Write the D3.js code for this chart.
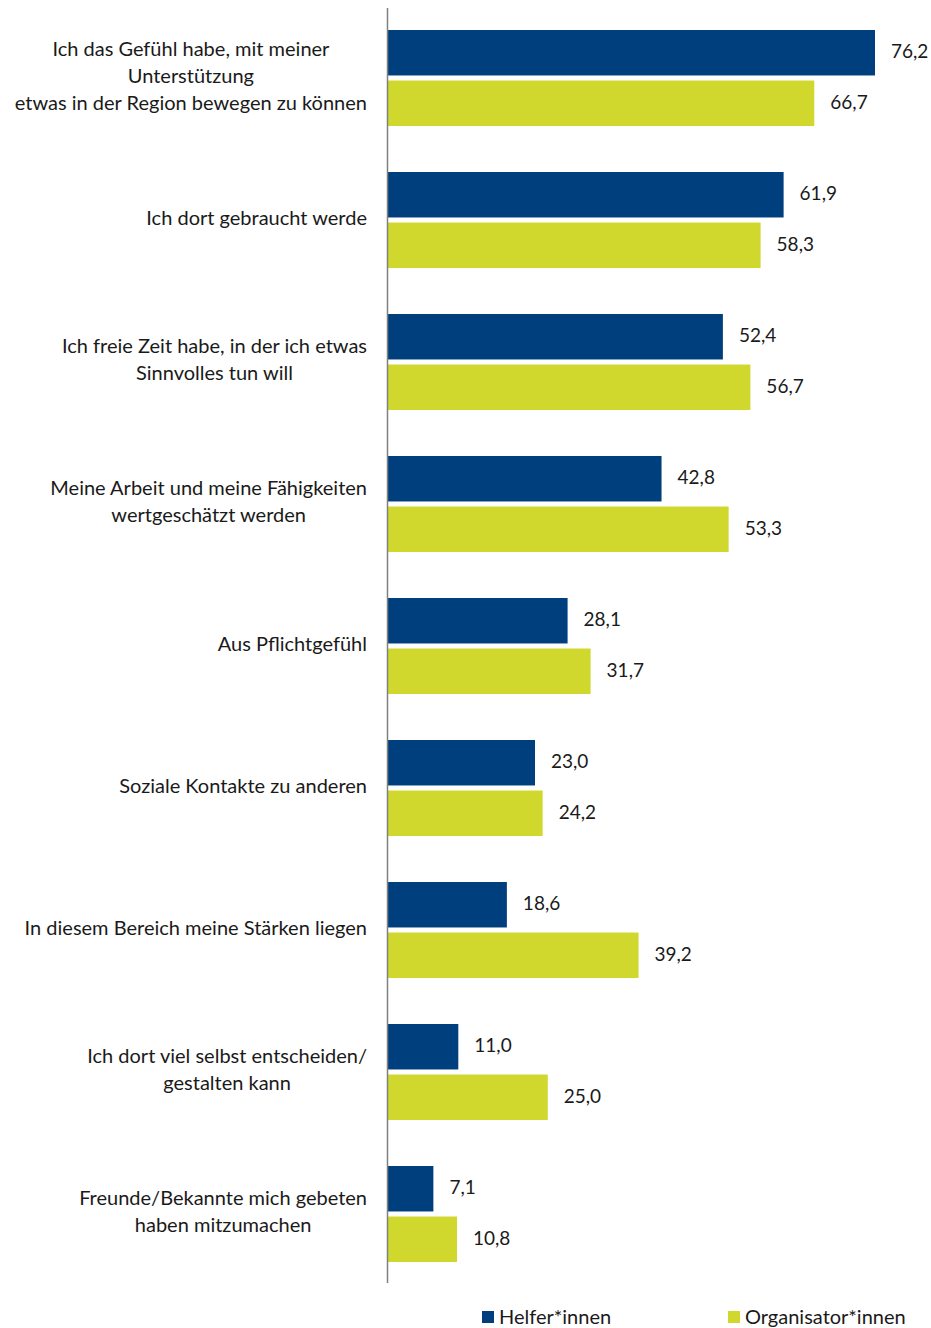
<!DOCTYPE html>
<html>
<head>
<meta charset="utf-8">
<script src="https://cdnjs.cloudflare.com/ajax/libs/d3/7.8.5/d3.min.js"></script>
<style>
  body { margin: 0; background: #fff; }
  svg text { font-family: "Source Sans Pro", Lato, sans-serif; fill: #1a1a1a; }
</style>
</head>
<body>
<div id="chart"></div>
<script>
var categories = [
    ["Ich das Gefühl habe, mit meiner", "Unterstützung", "etwas in der Region bewegen zu können"],
    ["Ich dort gebraucht werde"],
    ["Ich freie Zeit habe, in der ich etwas", "Sinnvolles tun will"],
    ["Meine Arbeit und meine Fähigkeiten", "wertgeschätzt werden"],
    ["Aus Pflichtgefühl"],
    ["Soziale Kontakte zu anderen"],
    ["In diesem Bereich meine Stärken liegen"],
    ["Ich dort viel selbst entscheiden/", "gestalten kann"],
    ["Freunde/Bekannte mich gebeten", "haben mitzumachen"]
];
var series = ["Helfer*innen", "Organisator*innen"];
var helfer = [76.2, 61.9, 52.4, 42.8, 28.1, 23.0, 18.6, 11.0, 7.1];
var organisatoren = [66.7, 58.3, 56.7, 53.3, 31.7, 24.2, 39.2, 25.0, 10.8];
var colors = ["#003f7d", "#d0d82e"];

var width = 931, height = 1328,
    axisX = 388, labelRight = 367;

var fmt = function(v) { return d3.format(".1f")(v).replace(".", ","); };

var svg = d3.select("#chart").append("svg")
    .attr("width", width)
    .attr("height", height);

var y0 = d3.scaleBand()
    .domain(d3.range(categories.length))
    .range([7, 1285])
    .paddingInner(0.324)
    .paddingOuter(0.162);

var y1 = d3.scaleBand()
    .domain(series)
    .range([0, y0.bandwidth()])
    .paddingInner(0.1);

var x = d3.scaleLinear()
    .domain([0, 76.2])
    .range([axisX, 875]);

var rows = categories.map(function(c, i) {
    return { i: i, label: c, values: [helfer[i], organisatoren[i]] };
});

var groups = svg.selectAll("g.group").data(rows)
    .enter().append("g")
    .attr("class", "group")
    .attr("transform", function(d) { return "translate(0," + y0(d.i) + ")"; });

var bars = groups.selectAll("g.bar")
    .data(function(d) { return d.values.map(function(v, k) { return { s: series[k], v: v, k: k }; }); })
    .enter().append("g");

bars.append("rect")
    .attr("x", x(0))
    .attr("y", function(d) { return y1(d.s); })
    .attr("width", function(d) { return x(d.v) - x(0); })
    .attr("height", y1.bandwidth())
    .attr("fill", function(d) { return colors[d.k]; });

bars.append("text")
    .attr("x", function(d) { return x(d.v) + 16; })
    .attr("y", function(d) { return y1(d.s) + y1.bandwidth() / 2; })
    .attr("dy", "0.3em")
    .style("font-size", "19px")
    .text(function(d) { return fmt(d.v); });

// category labels: lines centred on each other, block right-aligned
groups.each(function(d) {
    var g = d3.select(this);
    var lh = 27;
    var cy = y0.bandwidth() / 2 - 2;
    var t = g.append("text")
        .style("font-size", "20px")
        .attr("text-anchor", "middle");
    d.label.forEach(function(line, j) {
        t.append("tspan")
            .attr("y", cy + (j - (d.label.length - 1) / 2) * lh)
            .attr("dy", "0.35em")
            .text(line);
    });
    var maxW = 0;
    t.selectAll("tspan").each(function() {
        maxW = Math.max(maxW, this.getComputedTextLength());
    });
    t.selectAll("tspan").attr("x", labelRight - maxW / 2);
});

svg.append("line")
    .attr("x1", axisX - 0.5).attr("x2", axisX - 0.5)
    .attr("y1", 8).attr("y2", 1283)
    .attr("stroke", "#808080")
    .attr("stroke-width", 1.5);

// legend
var legendX = [482, 728];
var legend = svg.selectAll("g.legend").data(series)
    .enter().append("g")
    .attr("class", "legend")
    .attr("transform", function(d, i) { return "translate(" + legendX[i] + ",1311)"; });

legend.append("rect")
    .attr("width", 12).attr("height", 12)
    .attr("fill", function(d, i) { return colors[i]; });

legend.append("text")
    .attr("x", 17).attr("y", 6)
    .attr("dy", "0.35em")
    .style("font-size", "20px")
    .text(function(d) { return d; });
</script>
</body>
</html>
